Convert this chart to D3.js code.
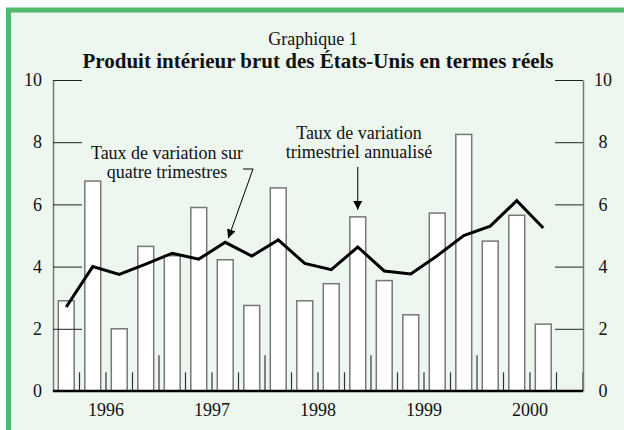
<!DOCTYPE html>
<html>
<head>
<meta charset="utf-8">
<script src="https://cdn.jsdelivr.net/npm/d3@7"></script>
<style>
  body { margin: 0; background: #fff; }
  text { font-family: "Liberation Serif", "Times New Roman", serif; fill: #111; }
</style>
</head>
<body>
<div id="chart"></div>
<script>
// quarters 1996-2000, last quarter of 2000 not yet published
var years = ["1996", "1997", "1998", "1999", "2000"];
var quarters = [];
years.forEach(function(y) { [1,2,3,4].forEach(function(q) { quarters.push(y + "T" + q); }); });

// taux de variation trimestriel annualise (bars)
var quarterly = [2.9, 6.75, 2.0, 4.65, 4.35, 5.9, 4.22, 2.75, 6.53, 2.9, 3.45, 5.6,
                 3.55, 2.45, 5.72, 8.25, 4.82, 5.65, 2.15];
// taux de variation sur quatre trimestres (line)
var fourQuarter = [2.7, 4.0, 3.75, 4.08, 4.43, 4.24, 4.78, 4.34, 4.86, 4.1, 3.9, 4.63,
                   3.86, 3.76, 4.35, 5.0, 5.3, 6.12, 5.24];
var yTicks = [0, 2, 4, 6, 8, 10];

var WIDTH = 624, HEIGHT = 430;
var plotLeft = 53, plotRight = 583, plotTop = 80, plotBottom = 391;

var svg = d3.select("#chart").append("svg")
    .attr("width", WIDTH)
    .attr("height", HEIGHT);

// green frame, only top and left edges visible
svg.append("rect")
    .attr("x", 8.5).attr("y", 10)
    .attr("width", 700).attr("height", 500)
    .style("fill", "#edf7ef")
    .style("stroke", "#52ba6c")
    .style("stroke-width", 5);

// titles
svg.append("text").attr("x", 313).attr("y", 45)
    .attr("text-anchor", "middle").style("font-size", "18px")
    .text("Graphique 1");
svg.append("text").attr("x", 318).attr("y", 68)
    .attr("text-anchor", "middle").style("font-size", "21px").style("font-weight", "bold")
    .text("Produit intérieur brut des États-Unis en termes réels");

var x = d3.scaleBand().domain(quarters).range([plotLeft, plotRight])
    .paddingInner(0.4).paddingOuter(0.2);
var y = d3.scaleLinear().domain([0, 10]).range([plotBottom, plotTop]);
var xc = function(i) { return x(quarters[i]) + x.bandwidth() / 2; };

// bars
svg.selectAll("rect.bar")
    .data(quarterly)
    .enter()
    .append("rect")
    .attr("class", "bar")
    .attr("x", function(d, i) { return x(quarters[i]); })
    .attr("y", function(d) { return y(d); })
    .attr("width", x.bandwidth())
    .attr("height", function(d) { return y(0) - y(d); })
    .style("fill", "#fff")
    .style("stroke", "#777")
    .style("stroke-width", 1.5);

// quarter and year ticks on the base line
var step = x.step();
d3.range(1, quarters.length + 1).forEach(function(k) {
    var bx = plotLeft + k * step;
    var yearEdge = k % 4 === 0 && k < quarters.length;
    svg.append("line")
        .attr("x1", bx).attr("x2", bx)
        .attr("y1", plotBottom).attr("y2", yearEdge ? y(1.15) : y(0.6))
        .style("stroke", yearEdge ? "#666" : "#333")
        .style("stroke-width", yearEdge ? 1.6 : 1.2);
});

// axes with inward ticks
var leftAxis = svg.append("g")
    .attr("transform", "translate(" + plotLeft + ",0)")
    .call(d3.axisLeft(y).tickValues(yTicks).tickSizeInner(-29).tickSizeOuter(0).tickPadding(11));
var rightAxis = svg.append("g")
    .attr("transform", "translate(" + plotRight + ",0)")
    .call(d3.axisRight(y).tickValues(yTicks).tickSizeInner(-28).tickSizeOuter(0).tickPadding(20));
[leftAxis, rightAxis].forEach(function(g) {
    g.select(".domain").style("stroke", "#777").style("stroke-width", 1.5);
    g.selectAll(".tick line").style("stroke", "#222").style("stroke-width", 1);
    g.selectAll(".tick text")
        .style("font-family", "'Liberation Serif', 'Times New Roman', serif")
        .style("font-size", "18px").style("fill", "#111");
});
rightAxis.selectAll(".tick text").attr("text-anchor", "middle");

// base line
svg.append("line")
    .attr("x1", plotLeft).attr("x2", plotRight)
    .attr("y1", y(0)).attr("y2", y(0))
    .style("stroke", "#000").style("stroke-width", 2.5);

// year labels
svg.selectAll("text.year")
    .data(years)
    .enter()
    .append("text")
    .attr("class", "year")
    .attr("x", function(d, i) { return plotLeft + (i * 4 + 2) * step; })
    .attr("y", 416)
    .attr("text-anchor", "middle")
    .style("font-size", "18px")
    .text(function(d) { return d; });

// four-quarter line
var line = d3.line()
    .x(function(d, i) { return xc(i); })
    .y(function(d) { return y(d); });
svg.append("path")
    .datum(fourQuarter)
    .attr("d", line)
    .style("fill", "none")
    .style("stroke", "#000")
    .style("stroke-width", 3)
    .style("stroke-linejoin", "miter");

// arrowhead
svg.append("defs").append("marker")
    .attr("id", "arrow")
    .attr("viewBox", "0 0 10 10")
    .attr("refX", 10).attr("refY", 5)
    .attr("markerWidth", 9).attr("markerHeight", 9)
    .attr("markerUnits", "userSpaceOnUse")
    .attr("orient", "auto")
    .append("path").attr("d", "M0,0L10,5L0,10Z").style("fill", "#000");

// annotation: quatre trimestres
svg.append("text").attr("x", 167).attr("y", 159)
    .attr("text-anchor", "middle").style("font-size", "18px")
    .text("Taux de variation sur");
svg.append("text").attr("x", 167).attr("y", 178)
    .attr("text-anchor", "middle").style("font-size", "18px")
    .text("quatre trimestres");
svg.append("path")
    .attr("d", "M243,169L253,169L" + (xc(6) + 3) + "," + (y(fourQuarter[6]) - 4))
    .style("fill", "none").style("stroke", "#000").style("stroke-width", 1)
    .attr("marker-end", "url(#arrow)");

// annotation: trimestriel annualise
svg.append("text").attr("x", 359).attr("y", 139)
    .attr("text-anchor", "middle").style("font-size", "18px")
    .text("Taux de variation");
svg.append("text").attr("x", 359).attr("y", 158)
    .attr("text-anchor", "middle").style("font-size", "18px")
    .text("trimestriel annualisé");
svg.append("line")
    .attr("x1", xc(11)).attr("x2", xc(11))
    .attr("y1", 167).attr("y2", y(quarterly[11]) - 7)
    .style("stroke", "#000").style("stroke-width", 1)
    .attr("marker-end", "url(#arrow)");
</script>
</body>
</html>
